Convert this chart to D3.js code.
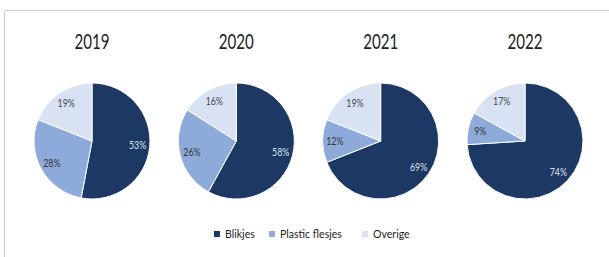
<!DOCTYPE html>
<html>
<head>
<meta charset="utf-8">
<script src="https://cdn.jsdelivr.net/npm/d3@7"></script>
<style>
  body { margin: 0; background: #fff; }
  svg { display: block; font-family: Lato, "DejaVu Sans Condensed", sans-serif; }
</style>
</head>
<body>
<div id="chart"></div>
<script>
const years = ["2019", "2020", "2021", "2022"];
const categories = ["Blikjes", "Plastic flesjes", "Overige"];
const blikjes = [53, 58, 69, 74];
const plastic = [28, 26, 12, 9];
const overige = [19, 16, 19, 17];

const width = 609, height = 257;
const colors = ["#1d3864", "#8eaadb", "#d9e2f3"];
const labelColors = ["#dde1ea", "#333", "#444"];

const svg = d3.select("#chart").append("svg")
  .attr("width", width)
  .attr("height", height);

// narrow text: the source font is a condensed one
function narrowText(parent, x, y, sx, str) {
  return parent.append("g")
    .attr("transform", `translate(${x},${y}) scale(${sx},1)`)
    .append("text")
    .text(str);
}

// frame
svg.append("path")
  .attr("d", `M4.5,${height} V10.5 H${width}`)
  .attr("fill", "none")
  .attr("stroke", "#cfcfcf")
  .attr("stroke-width", 1);

const x = d3.scalePoint().domain(years).range([92, 525]);
const r = 58, cy = 141;

const pie = d3.pie().sort(null).value(d => d.v);
const arc = d3.arc().innerRadius(0).outerRadius(r);
const labelArc = d3.arc().innerRadius(r * 0.79).outerRadius(r * 0.79);

years.forEach((yr, i) => {
  const rows = [
    { c: 0, v: blikjes[i] },
    { c: 1, v: plastic[i] },
    { c: 2, v: overige[i] }
  ];
  const g = svg.append("g").attr("transform", `translate(${x(yr)},${cy})`);

  g.selectAll("path").data(pie(rows)).join("path")
    .attr("d", arc)
    .attr("fill", d => colors[d.data.c])
    .attr("stroke", "#fff")
    .attr("stroke-width", 1);

  pie(rows).forEach(d => {
    const [lx, ly] = labelArc.centroid(d);
    narrowText(g, lx, ly, 0.8, d.data.v + "%")
      .attr("text-anchor", "middle")
      .attr("dy", "0.35em")
      .attr("font-size", 11)
      .attr("fill", labelColors[d.data.c]);
  });

  narrowText(svg, x(yr), 49, 0.72, yr)
    .attr("text-anchor", "middle")
    .attr("font-size", 21)
    .attr("fill", "#222");
});

// legend
const legX = [214, 269, 362];
const leg = svg.append("g").attr("transform", "translate(0,234)");
categories.forEach((c, i) => {
  leg.append("rect")
    .attr("x", legX[i]).attr("y", -3)
    .attr("width", 6).attr("height", 6)
    .attr("fill", colors[i]);
  narrowText(leg, legX[i] + 11, 0, 0.88, c)
    .attr("dy", "0.35em")
    .attr("font-size", 12)
    .attr("fill", "#222");
});
</script>
</body>
</html>
